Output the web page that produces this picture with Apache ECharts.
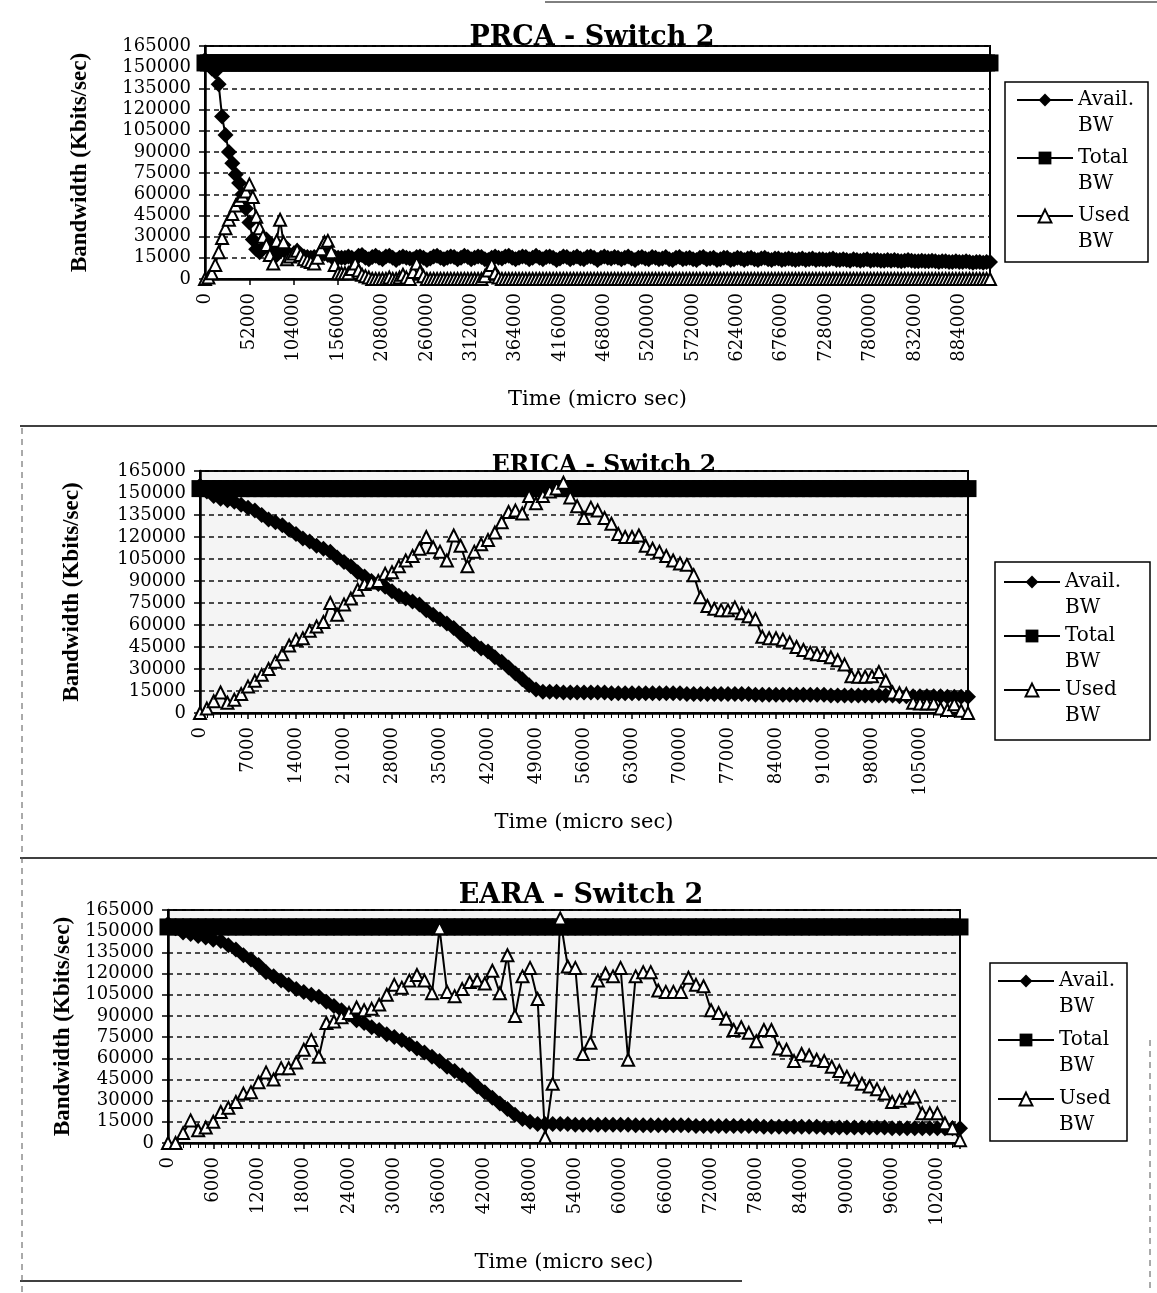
<!DOCTYPE html>
<html>
<head>
<meta charset="utf-8">
<title>Bandwidth - Switch 2</title>
<script src="https://cdn.jsdelivr.net/npm/echarts/dist/echarts.min.js"></script>
<style>
  html, body { margin: 0; padding: 0; background: #fff; }
  #chart { width: 1157px; height: 1293px; }
</style>
</head>
<body>
<div id="chart"></div>
<script>
// ---------------- PRCA - Switch 2 ----------------
const prcaTime = [
  0, 4000, 8000, 12000, 16000, 20000, 24000, 28000, 32000, 36000,
  40000, 44000, 48000, 52000, 56000, 60000, 64000, 68000, 72000, 76000,
  80000, 84000, 88000, 92000, 96000, 100000, 104000, 108000, 112000, 116000,
  120000, 124000, 128000, 132000, 136000, 140000, 144000, 148000, 152000, 156000,
  160000,
  164000, 168000, 172000, 176000, 180000, 184000, 188000, 192000, 196000, 200000,
  204000, 208000, 212000, 216000, 220000, 224000, 228000, 232000, 236000, 240000,
  244000, 248000, 252000, 256000, 260000, 264000, 268000, 272000, 276000, 280000,
  284000, 288000, 292000, 296000, 300000, 304000, 308000, 312000, 316000, 320000,
  324000, 328000, 332000, 336000, 340000, 344000, 348000, 352000, 356000, 360000,
  364000, 368000, 372000, 376000, 380000, 384000, 388000, 392000, 396000, 400000,
  404000, 408000, 412000, 416000, 420000, 424000, 428000, 432000, 436000, 440000,
  444000, 448000, 452000, 456000, 460000, 464000, 468000, 472000, 476000, 480000,
  484000, 488000, 492000, 496000, 500000, 504000, 508000, 512000, 516000, 520000,
  524000, 528000, 532000, 536000, 540000, 544000, 548000, 552000, 556000, 560000,
  564000, 568000, 572000, 576000, 580000, 584000, 588000, 592000, 596000, 600000,
  604000, 608000, 612000, 616000, 620000, 624000, 628000, 632000, 636000, 640000,
  644000, 648000, 652000, 656000, 660000, 664000, 668000, 672000, 676000, 680000,
  684000, 688000, 692000, 696000, 700000, 704000, 708000, 712000, 716000, 720000,
  724000, 728000, 732000, 736000, 740000, 744000, 748000, 752000, 756000, 760000,
  764000, 768000, 772000, 776000, 780000, 784000, 788000, 792000, 796000, 800000,
  804000, 808000, 812000, 816000, 820000, 824000, 828000, 832000, 836000, 840000,
  844000, 848000, 852000, 856000, 860000, 864000, 868000, 872000, 876000, 880000,
  884000, 888000, 892000, 896000, 900000, 904000, 908000, 912000, 916000, 920000
];
const prcaAvail = [
  155000, 152000, 149000, 147000, 138000, 115000, 102000, 90000, 82000, 74000,
  68000, 60000, 50000, 40000, 28000, 21000, 19000, 22000, 28000, 24000,
  19000, 17000, 21000, 24000, 19000, 16000, 18000, 20000, 17000, 16000,
  15500, 15000, 15500, 16000, 17000, 18000, 17000, 16000, 15500, 15000,
  15000,
  15000, 16000, 15000, 14000, 16500, 17000, 15000, 14000, 15500, 16500,
  15000, 14000, 16000, 16500, 15000, 13500, 15000, 16000, 15000, 14500,
  14000, 15500, 16000, 15000, 13500, 14500, 16000, 16500, 15000, 14000,
  15000, 16000, 15500, 14000, 15000, 16500, 15500, 14000, 15000, 16000,
  15500, 14000, 13500, 15000, 16000, 15000, 14500, 16000, 16500, 15000,
  14000, 15000, 16000, 15500, 14000, 15000, 16500, 15000, 14000, 15500,
  16000, 15000, 13500, 14500, 16000, 15500, 14000, 15000, 16000, 14500,
  14000, 15500, 16000, 15000, 13500, 15000, 16000, 15000, 14500, 15500,
  15000, 14000, 15000, 16000, 14500, 13500, 15000, 15500, 14500, 14000,
  15500, 15000, 14000, 14500, 15500, 14000, 13500, 15000, 15500, 14000,
  14500, 15000, 14000, 13500, 15000, 15500, 14000, 14500, 15000, 13500,
  14000, 15000, 15000, 13500, 14000, 15000, 14500, 13500, 14500, 15000,
  14000, 13500, 14500, 15000, 14000, 13500, 14500, 14500, 13500, 14000,
  14500, 14000, 13500, 14000, 14500, 13500, 14000, 14500, 13500, 14000,
  14000, 13500, 14000, 14500, 13500, 13500, 14000, 13500, 13000, 14000,
  13500, 13000, 13500, 14000, 13000, 13500, 13500, 13000, 13000, 13500,
  13000, 13500, 13000, 12500, 13000, 13500, 13000, 12500, 12500, 13000,
  12500, 12500, 13000, 12500, 12000, 12500, 12500, 12000, 12000, 12500,
  12000, 12000, 12500, 12000, 11500, 12000, 12000, 11500, 12000, 12000
];
const prcaTotal = [
  153000, 153000, 153000, 153000, 153000, 153000, 153000, 153000, 153000, 153000,
  153000, 153000, 153000, 153000, 153000, 153000, 153000, 153000, 153000, 153000,
  153000, 153000, 153000, 153000, 153000, 153000, 153000, 153000, 153000, 153000,
  153000, 153000, 153000, 153000, 153000, 153000, 153000, 153000, 153000, 153000,
  153000,
  153000, 153000, 153000, 153000, 153000, 153000, 153000, 153000, 153000, 153000,
  153000, 153000, 153000, 153000, 153000, 153000, 153000, 153000, 153000, 153000,
  153000, 153000, 153000, 153000, 153000, 153000, 153000, 153000, 153000, 153000,
  153000, 153000, 153000, 153000, 153000, 153000, 153000, 153000, 153000, 153000,
  153000, 153000, 153000, 153000, 153000, 153000, 153000, 153000, 153000, 153000,
  153000, 153000, 153000, 153000, 153000, 153000, 153000, 153000, 153000, 153000,
  153000, 153000, 153000, 153000, 153000, 153000, 153000, 153000, 153000, 153000,
  153000, 153000, 153000, 153000, 153000, 153000, 153000, 153000, 153000, 153000,
  153000, 153000, 153000, 153000, 153000, 153000, 153000, 153000, 153000, 153000,
  153000, 153000, 153000, 153000, 153000, 153000, 153000, 153000, 153000, 153000,
  153000, 153000, 153000, 153000, 153000, 153000, 153000, 153000, 153000, 153000,
  153000, 153000, 153000, 153000, 153000, 153000, 153000, 153000, 153000, 153000,
  153000, 153000, 153000, 153000, 153000, 153000, 153000, 153000, 153000, 153000,
  153000, 153000, 153000, 153000, 153000, 153000, 153000, 153000, 153000, 153000,
  153000, 153000, 153000, 153000, 153000, 153000, 153000, 153000, 153000, 153000,
  153000, 153000, 153000, 153000, 153000, 153000, 153000, 153000, 153000, 153000,
  153000, 153000, 153000, 153000, 153000, 153000, 153000, 153000, 153000, 153000,
  153000, 153000, 153000, 153000, 153000, 153000, 153000, 153000, 153000, 153000,
  153000, 153000, 153000, 153000, 153000, 153000, 153000, 153000, 153000, 153000
];
const prcaUsed = [
  0, 1000, 4000, 10000, 19000, 29000, 36000, 42000, 46000, 52000,
  56000, 59000, 62000, 67000, 58000, 44000, 36000, 30000, 24000, 17000,
  11000, 27000, 42000, 26000, 14000, 16000, 18000, 20000, 17000, 14000,
  13000, 12000, 11000, 15000, 21000, 26000, 27000, 19000, 10000, 4000,
  4000,
  4000, 4000, 7000, 11000, 6000, 3000, 2000, 1000, 0, 0,
  0, 0, 0, 1000, 0, 0, 1000, 3000, 1000, 0,
  5000, 11000, 5000, 2000, 0, 0, 0, 0, 0, 0,
  0, 0, 0, 0, 0, 0, 0, 0, 0, 0,
  0, 2000, 6000, 10000, 4000, 1000, 0, 0, 0, 0,
  0, 0, 0, 0, 0, 0, 0, 0, 0, 0,
  0, 0, 0, 0, 0, 0, 0, 0, 0, 0,
  0, 0, 0, 0, 0, 0, 0, 0, 0, 0,
  0, 0, 0, 0, 0, 0, 0, 0, 0, 0,
  0, 0, 0, 0, 0, 0, 0, 0, 0, 0,
  0, 0, 0, 0, 0, 0, 0, 0, 0, 0,
  0, 0, 0, 0, 0, 0, 0, 0, 0, 0,
  0, 0, 0, 0, 0, 0, 0, 0, 0, 0,
  0, 0, 0, 0, 0, 0, 0, 0, 0, 0,
  0, 0, 0, 0, 0, 0, 0, 0, 0, 0,
  0, 0, 0, 0, 0, 0, 0, 0, 0, 0,
  0, 0, 0, 0, 0, 0, 0, 0, 0, 0,
  0, 0, 0, 0, 0, 0, 0, 0, 0, 0,
  0, 0, 0, 0, 0, 0, 0, 0, 0, 0
];

// ---------------- ERICA - Switch 2 ----------------
const ericaTime = [
  0, 1000, 2000, 3000, 4000, 5000, 6000, 7000, 8000, 9000,
  10000, 11000, 12000, 13000, 14000, 15000, 16000, 17000, 18000, 19000,
  20000, 21000, 22000, 23000, 24000, 25000, 26000, 27000, 28000, 29000,
  30000, 31000, 32000, 33000, 34000, 35000, 36000, 37000, 38000, 39000,
  40000, 41000, 42000, 43000, 44000, 45000, 46000, 47000, 48000, 49000,
  50000, 51000, 52000, 53000, 54000, 55000, 56000, 57000, 58000, 59000,
  60000, 61000, 62000, 63000, 64000, 65000, 66000, 67000, 68000, 69000,
  70000, 71000, 72000, 73000, 74000, 75000, 76000, 77000, 78000, 79000,
  80000, 81000, 82000, 83000, 84000, 85000, 86000, 87000, 88000, 89000,
  90000, 91000, 92000, 93000, 94000, 95000, 96000, 97000, 98000, 99000,
  100000, 101000, 102000, 103000, 104000, 105000, 106000, 107000, 108000, 109000,
  110000, 111000, 112000
];
const ericaAvail = [
  155000, 151000, 148000, 146000, 145000, 144000, 142000, 140000, 138000, 135000,
  132000, 130000, 128000, 125000, 122000, 119000, 117000, 114000, 112000, 110000,
  106000, 103000, 100000, 96000, 93000, 90000, 88000, 86000, 83000, 80000,
  78000, 76000, 74000, 70000, 67000, 64000, 61000, 58000, 54000, 50000,
  47000, 44000, 42000, 38000, 35000, 31000, 27000, 23000, 19000, 16000,
  14500, 14500, 14500, 14000, 14000, 14000, 14000, 14000, 14000, 14000,
  13500, 13500, 13500, 13500, 13500, 13500, 13500, 13500, 13500, 13500,
  13500, 13000, 13000, 13000, 13000, 13000, 13000, 13000, 13000, 13000,
  13000, 12500, 12500, 12500, 12500, 12500, 12500, 12500, 12500, 12500,
  12500, 12500, 12000, 12000, 12000, 12000, 12000, 12000, 12000, 12000,
  12000, 12000, 11500, 11500, 11500, 11500, 11500, 11500, 11500, 11000,
  11000, 11000, 11000
];
const ericaTotal = [
  153000, 153000, 153000, 153000, 153000, 153000, 153000, 153000, 153000, 153000,
  153000, 153000, 153000, 153000, 153000, 153000, 153000, 153000, 153000, 153000,
  153000, 153000, 153000, 153000, 153000, 153000, 153000, 153000, 153000, 153000,
  153000, 153000, 153000, 153000, 153000, 153000, 153000, 153000, 153000, 153000,
  153000, 153000, 153000, 153000, 153000, 153000, 153000, 153000, 153000, 153000,
  153000, 153000, 153000, 153000, 153000, 153000, 153000, 153000, 153000, 153000,
  153000, 153000, 153000, 153000, 153000, 153000, 153000, 153000, 153000, 153000,
  153000, 153000, 153000, 153000, 153000, 153000, 153000, 153000, 153000, 153000,
  153000, 153000, 153000, 153000, 153000, 153000, 153000, 153000, 153000, 153000,
  153000, 153000, 153000, 153000, 153000, 153000, 153000, 153000, 153000, 153000,
  153000, 153000, 153000, 153000, 153000, 153000, 153000, 153000, 153000, 153000,
  153000, 153000, 153000
];
const ericaUsed = [
  0, 3000, 8000, 14000, 7000, 9000, 13000, 18000, 22000, 26000,
  30000, 35000, 40000, 46000, 50000, 51000, 56000, 59000, 62000, 75000,
  67000, 74000, 78000, 84000, 88000, 89000, 90000, 95000, 96000, 100000,
  104000, 107000, 112000, 120000, 113000, 110000, 104000, 121000, 114000, 100000,
  110000, 115000, 118000, 123000, 130000, 137000, 138000, 136000, 148000, 143000,
  148000, 151000, 153000, 157000, 147000, 141000, 133000, 140000, 138000, 133000,
  129000, 122000, 120000, 120000, 121000, 114000, 112000, 110000, 107000, 104000,
  102000, 101000, 94000, 79000, 73000, 71000, 70000, 70000, 72000, 68000,
  66000, 64000, 52000, 51000, 51000, 50000, 48000, 45000, 43000, 41000,
  40000, 39500, 38000, 36000, 33000, 25000, 24700, 24700, 25000, 28000,
  22000, 14000, 13500, 13000, 7000, 6500, 6500, 6500, 3000, 2000,
  6000, 1500, 0
];

// ---------------- EARA - Switch 2 ----------------
const earaTime = [
  0, 1000, 2000, 3000, 4000, 5000, 6000, 7000, 8000, 9000,
  10000, 11000, 12000, 13000, 14000, 15000, 16000, 17000, 18000, 19000,
  20000, 21000, 22000, 23000, 24000, 25000, 26000, 27000, 28000, 29000,
  30000, 31000, 32000, 33000, 34000, 35000, 36000, 37000, 38000, 39000,
  40000, 41000, 42000, 43000, 44000, 45000, 46000, 47000, 48000, 49000,
  50000, 51000, 52000, 53000, 54000, 55000, 56000, 57000, 58000, 59000,
  60000, 61000, 62000, 63000, 64000, 65000, 66000, 67000, 68000, 69000,
  70000, 71000, 72000, 73000, 74000, 75000, 76000, 77000, 78000, 79000,
  80000, 81000, 82000, 83000, 84000, 85000, 86000, 87000, 88000, 89000,
  90000, 91000, 92000, 93000, 94000, 95000, 96000, 97000, 98000, 99000,
  100000, 101000, 102000, 103000, 104000, 105000
];
const earaAvail = [
  155000, 152000, 149000, 148000, 146500, 145500, 144000, 143000, 140000, 137000,
  133000, 130000, 126000, 121000, 118000, 115000, 112000, 109000, 107000, 105000,
  103500, 100000, 97000, 94000, 91000, 87000, 85000, 82000, 80000, 77000,
  75000, 73000, 70000, 67000, 64000, 61000, 58000, 54000, 51000, 48000,
  45000, 40000, 36000, 32000, 28000, 24000, 20000, 17000, 15000, 13500,
  13500, 13500, 13500, 13500, 13000, 13000, 13000, 13000, 13000, 13000,
  13000, 13000, 12500, 12500, 12500, 12500, 12500, 12500, 12500, 12500,
  12000, 12000, 12000, 12000, 12000, 12000, 12000, 12000, 12000, 11500,
  11500, 11500, 11500, 11500, 11500, 11500, 11500, 11000, 11000, 11000,
  11000, 11000, 11000, 11000, 11000, 11000, 10500, 10500, 10500, 10500,
  10500, 10500, 10500, 10500, 10500, 10500
];
const earaTotal = [
  153000, 153000, 153000, 153000, 153000, 153000, 153000, 153000, 153000, 153000,
  153000, 153000, 153000, 153000, 153000, 153000, 153000, 153000, 153000, 153000,
  153000, 153000, 153000, 153000, 153000, 153000, 153000, 153000, 153000, 153000,
  153000, 153000, 153000, 153000, 153000, 153000, 153000, 153000, 153000, 153000,
  153000, 153000, 153000, 153000, 153000, 153000, 153000, 153000, 153000, 153000,
  153000, 153000, 153000, 153000, 153000, 153000, 153000, 153000, 153000, 153000,
  153000, 153000, 153000, 153000, 153000, 153000, 153000, 153000, 153000, 153000,
  153000, 153000, 153000, 153000, 153000, 153000, 153000, 153000, 153000, 153000,
  153000, 153000, 153000, 153000, 153000, 153000, 153000, 153000, 153000, 153000,
  153000, 153000, 153000, 153000, 153000, 153000, 153000, 153000, 153000, 153000,
  153000, 153000, 153000, 153000, 153000, 153000
];
const earaUsed = [
  0, 0, 7000, 16000, 9000, 11000, 15000, 22000, 25000, 29000,
  35000, 36000, 43000, 50000, 45000, 53000, 53000, 57000, 66000, 73000,
  61000, 85000, 86000, 89000, 92000, 96000, 94000, 95000, 98000, 105000,
  112000, 110000, 115000, 119000, 115000, 106000, 152000, 107000, 104000, 109000,
  114000, 115000, 113000, 122000, 106000, 133000, 90000, 118000, 124000, 102000,
  4000, 42000, 159000, 125000, 124000, 63000, 71000, 115000, 120000, 118000,
  124000, 59000, 118000, 121000, 121000, 108000, 107000, 107000, 107000, 117000,
  112000, 111000, 94000, 92000, 88000, 80000, 82000, 78000, 72000, 80000,
  80000, 67000, 66000, 58000, 63000, 62000, 59000, 58000, 54000, 51000,
  47000, 45000, 42000, 40000, 38000, 35000, 29000, 30000, 32000, 33000,
  21000, 21000, 21000, 14000, 10500, 2000
];

// Axis tick values
const yTicks = [0, 15000, 30000, 45000, 60000, 75000, 90000, 105000, 120000, 135000, 150000, 165000];
const prcaXStep = 52000;
const ericaXStep = 7000;
const earaXStep = 6000;

const seriesNames = ['Avail. BW', 'Total BW', 'Used BW'];
const titles = ['PRCA - Switch 2', 'ERICA - Switch 2', 'EARA - Switch 2'];
const xTitle = 'Time (micro sec)';
const yTitle = 'Bandwidth (Kbits/sec)';

const SERIF = 'DejaVu Serif';

const panels = [
  { time: prcaTime, avail: prcaAvail, total: prcaTotal, used: prcaUsed, step: prcaXStep, max: 920000, minor: 0,
    grid: { left: 205, top: 46, right: 1157 - 990, bottom: 1293 - 279 }, bg: '#ffffff',
    titleX: 592, titleY: 38, titleSize: 27, xNameGap: 110, yNameGap: 113,
    legend: { left: 1016, iconY: 100, gap: 58, box: [1005, 82, 143, 180] } },
  { time: ericaTime, avail: ericaAvail, total: ericaTotal, used: ericaUsed, step: ericaXStep, max: 112000, minor: 7,
    grid: { left: 200, top: 471, right: 1157 - 968, bottom: 1293 - 713 }, bg: '#f4f4f4',
    titleX: 604, titleY: 466, titleSize: 23.5, xNameGap: 99, yNameGap: 116,
    legend: { left: 1003, iconY: 582, gap: 54, box: [995, 562, 155, 178] } },
  { time: earaTime, avail: earaAvail, total: earaTotal, used: earaUsed, step: earaXStep, max: 105000, minor: 6,
    grid: { left: 168, top: 910, right: 1157 - 960, bottom: 1293 - 1143 }, bg: '#f4f4f4',
    titleX: 581, titleY: 896, titleSize: 27, xNameGap: 109, yNameGap: 84,
    legend: { left: 997, iconY: 981, gap: 59, box: [990, 963, 137, 178] } }
];

function pairs(times, vals) {
  return times.map((t, i) => [t, vals[i]]);
}
const plainNumber = v => String(v);

const grids = [], xAxes = [], yAxes = [], series = [], legends = [], graphics = [];

panels.forEach((p, k) => {
  grids.push({
    left: p.grid.left, top: p.grid.top, right: p.grid.right, bottom: p.grid.bottom,
    show: true, backgroundColor: p.bg, borderColor: '#000', borderWidth: 2
  });
  xAxes.push({
    type: 'value', gridIndex: k, min: 0, max: p.max, interval: p.step,
    name: xTitle, nameLocation: 'middle', nameGap: p.xNameGap,
    nameTextStyle: { fontFamily: SERIF, fontSize: 21, color: '#000' },
    axisLine: { show: true, onZero: false, lineStyle: { color: '#000', width: 2.5 } },
    axisTick: { show: true, length: 6, lineStyle: { color: '#000', width: 1.5 } },
    minorTick: { show: p.minor > 0, splitNumber: p.minor || 5, length: 5, lineStyle: { color: '#000', width: 1 } },
    axisLabel: { rotate: 90, margin: 14, color: '#000', fontFamily: SERIF, fontSize: 18, showMaxLabel: false, formatter: plainNumber },
    splitLine: { show: false }
  });
  yAxes.push({
    type: 'value', gridIndex: k, min: yTicks[0], max: yTicks[yTicks.length - 1], interval: yTicks[1] - yTicks[0],
    name: yTitle, nameLocation: 'middle', nameGap: p.yNameGap,
    nameTextStyle: { fontFamily: 'Liberation Serif', fontWeight: 'bold', fontSize: 23, color: '#000' },
    axisLine: { show: true, lineStyle: { color: '#000', width: 2.5 } },
    axisTick: { show: true, length: 6, lineStyle: { color: '#000', width: 1.5 } },
    axisLabel: { margin: 14, color: '#000', fontFamily: SERIF, fontSize: 18, formatter: plainNumber },
    splitLine: { show: true, lineStyle: { color: '#111', width: 1.5, type: [5, 4] } }
  });

  const common = { type: 'line', xAxisIndex: k, yAxisIndex: k, animation: false, silent: true,
                   emphasis: { disabled: true }, clip: false };
  series.push(Object.assign({}, common, {
    name: seriesNames[0], data: pairs(p.time, p.avail), symbol: 'diamond', symbolSize: 16, z: 3,
    itemStyle: { color: '#000' }, lineStyle: { color: '#000', width: 2 }
  }));
  series.push(Object.assign({}, common, {
    name: seriesNames[1], data: pairs(p.time, p.total), symbol: 'rect', symbolSize: 17, z: 3,
    itemStyle: { color: '#000' }, lineStyle: { color: '#000', width: 2 }
  }));
  series.push(Object.assign({}, common, {
    name: seriesNames[2], data: pairs(p.time, p.used), symbol: 'triangle', symbolSize: 12, z: 4,
    itemStyle: { color: '#fff', borderColor: '#000', borderWidth: 2 }, lineStyle: { color: '#000', width: 2 }
  }));

  // legend text: an empty first line keeps the label's first line level with the icon
  legends.push({
    data: seriesNames, orient: 'vertical', left: p.legend.left, top: p.legend.iconY - 39,
    padding: 0, itemWidth: 56, itemHeight: 16, itemGap: p.legend.gap - 78,
    selectedMode: false, formatter: n => '\u00a0\n' + n.replace(' ', '\n'),
    textStyle: { fontFamily: SERIF, fontSize: 20, color: '#000', lineHeight: 26 }
  });

  graphics.push({
    type: 'rect', shape: { x: p.legend.box[0], y: p.legend.box[1], width: p.legend.box[2], height: p.legend.box[3] },
    style: { fill: 'none', stroke: '#000', lineWidth: 1.5 }, silent: true, z: 10
  });
  graphics.push({
    type: 'text', x: p.titleX, y: p.titleY,
    style: { text: titles[k], fill: '#000', font: 'bold ' + p.titleSize + 'px "DejaVu Serif"', textAlign: 'center', textVerticalAlign: 'middle' },
    silent: true, z: 10
  });
});

// page frame rules between the three panels
graphics.push(
  { type: 'line', shape: { x1: 20, y1: 426, x2: 1157, y2: 426 }, style: { stroke: '#000', lineWidth: 1.5 }, silent: true },
  { type: 'line', shape: { x1: 20, y1: 858, x2: 1157, y2: 858 }, style: { stroke: '#000', lineWidth: 1.5 }, silent: true },
  { type: 'line', shape: { x1: 20, y1: 1281, x2: 742, y2: 1281 }, style: { stroke: '#000', lineWidth: 1.5 }, silent: true },
  { type: 'line', shape: { x1: 545, y1: 2, x2: 1157, y2: 2 }, style: { stroke: '#000', lineWidth: 1 }, silent: true },
  { type: 'line', shape: { x1: 22, y1: 428, x2: 22, y2: 1293 }, style: { stroke: '#555', lineWidth: 1, lineDash: [6, 5] }, silent: true },
  { type: 'line', shape: { x1: 1150, y1: 1040, x2: 1150, y2: 1293 }, style: { stroke: '#555', lineWidth: 1, lineDash: [6, 5] }, silent: true }
);

const chart = echarts.init(document.getElementById('chart'), null, { renderer: 'canvas' });
chart.setOption({
  backgroundColor: '#fff',
  animation: false,
  grid: grids,
  xAxis: xAxes,
  yAxis: yAxes,
  legend: legends,
  series: series,
  graphic: graphics
});
</script>
</body>
</html>
